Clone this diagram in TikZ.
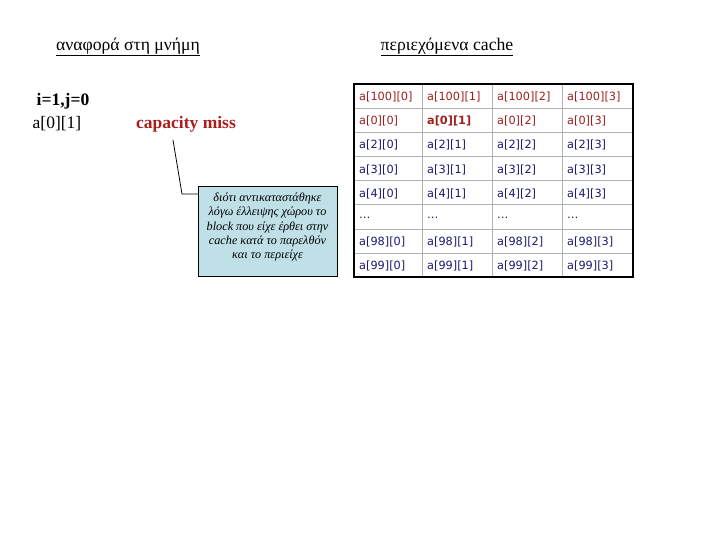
\documentclass[tikz,border=0pt]{standalone}
\usepackage{fontspec}
\setmainfont{Liberation Serif}
\newfontfamily\cellfont{DejaVu Sans}
\definecolor{missred}{RGB}{170,30,30}
\definecolor{cellred}{RGB}{160,30,30}
\definecolor{cellblue}{RGB}{25,25,110}
\definecolor{notefill}{RGB}{190,224,230}
\begin{document}
\begin{tikzpicture}[x=1pt,y=-1pt,
  title/.style={font=\fontsize{17.7}{20}\selectfont},
  big/.style={font=\fontsize{17.5}{20}\selectfont},
  cell/.style={anchor=west,inner sep=0pt,font=\cellfont\fontsize{11.3}{13}\selectfont},
  note/.style={draw,fill=notefill,minimum width=139pt,minimum height=90pt,inner sep=0pt},
  notetext/.style={anchor=north,align=center,inner sep=0pt,
    font=\itshape\fontsize{12.2}{14.3}\selectfont}]
  \useasboundingbox (0,0) rectangle (720,540);
  % titles
  \node[title] (memref) at (128,47) {\underline{αναφορά στη μνήμη}};
  \node[title] (cachetitle) at (447,47) {\underline{περιεχόμενα cache}};
  % the reference
  \node[big,font=\bfseries\fontsize{17.5}{20}\selectfont] (ij) at (63,101) {i=1,j=0};
  \node[big] (ref) at (57,124) {a[0][1]};
  \node[font=\bfseries\fontsize{17.5}{20}\selectfont,text=missred] (miss) at (186,124) {capacity miss};
  % explanation
  \node[note] (why) at (267.5,231) {};
  \node[notetext] (whytext) at ([yshift=-7pt]why.north) {διότι αντικαταστάθηκε\\λόγω έλλειψης χώρου το\\block που είχε έρθει στην\\cache κατά το παρελθόν\\και το περιείχε};
  \coordinate (tail) at (173,140);
  \coordinate (knee) at (182,194);
  \draw[line width=0.8pt] (tail) -- (knee) -- (why.west |- knee);
  % cache table
  \foreach \x in {422,492,562}
    \draw[gray!60] (\x,84) -- (\x,277);
  \foreach \r in {1,...,7}
    \draw[gray!60] (354,84+24.125*\r) -- (633,84+24.125*\r);
  \draw[line width=2.5pt] (354,84) rectangle (633,277);
  \foreach \n/\col/\r in {100/cellred/1,0/cellred/2,2/cellblue/3,3/cellblue/4,
      4/cellblue/5,98/cellblue/7,99/cellblue/8}
    \foreach \c/\x in {0/359,1/427,2/497,3/567}
      \node[cell,text=\col] (c-\r-\c) at (\x,84+24.125*\r-11) {\ifnum\r\c=21 \bfseries\fi a[\n][\c]};
  \foreach \c/\x in {0/359,1/427,2/497,3/567}
    \node[cell,text=cellblue] (c-6-\c) at (\x,84+24.125*6-11) {…};
\end{tikzpicture}
\end{document}
